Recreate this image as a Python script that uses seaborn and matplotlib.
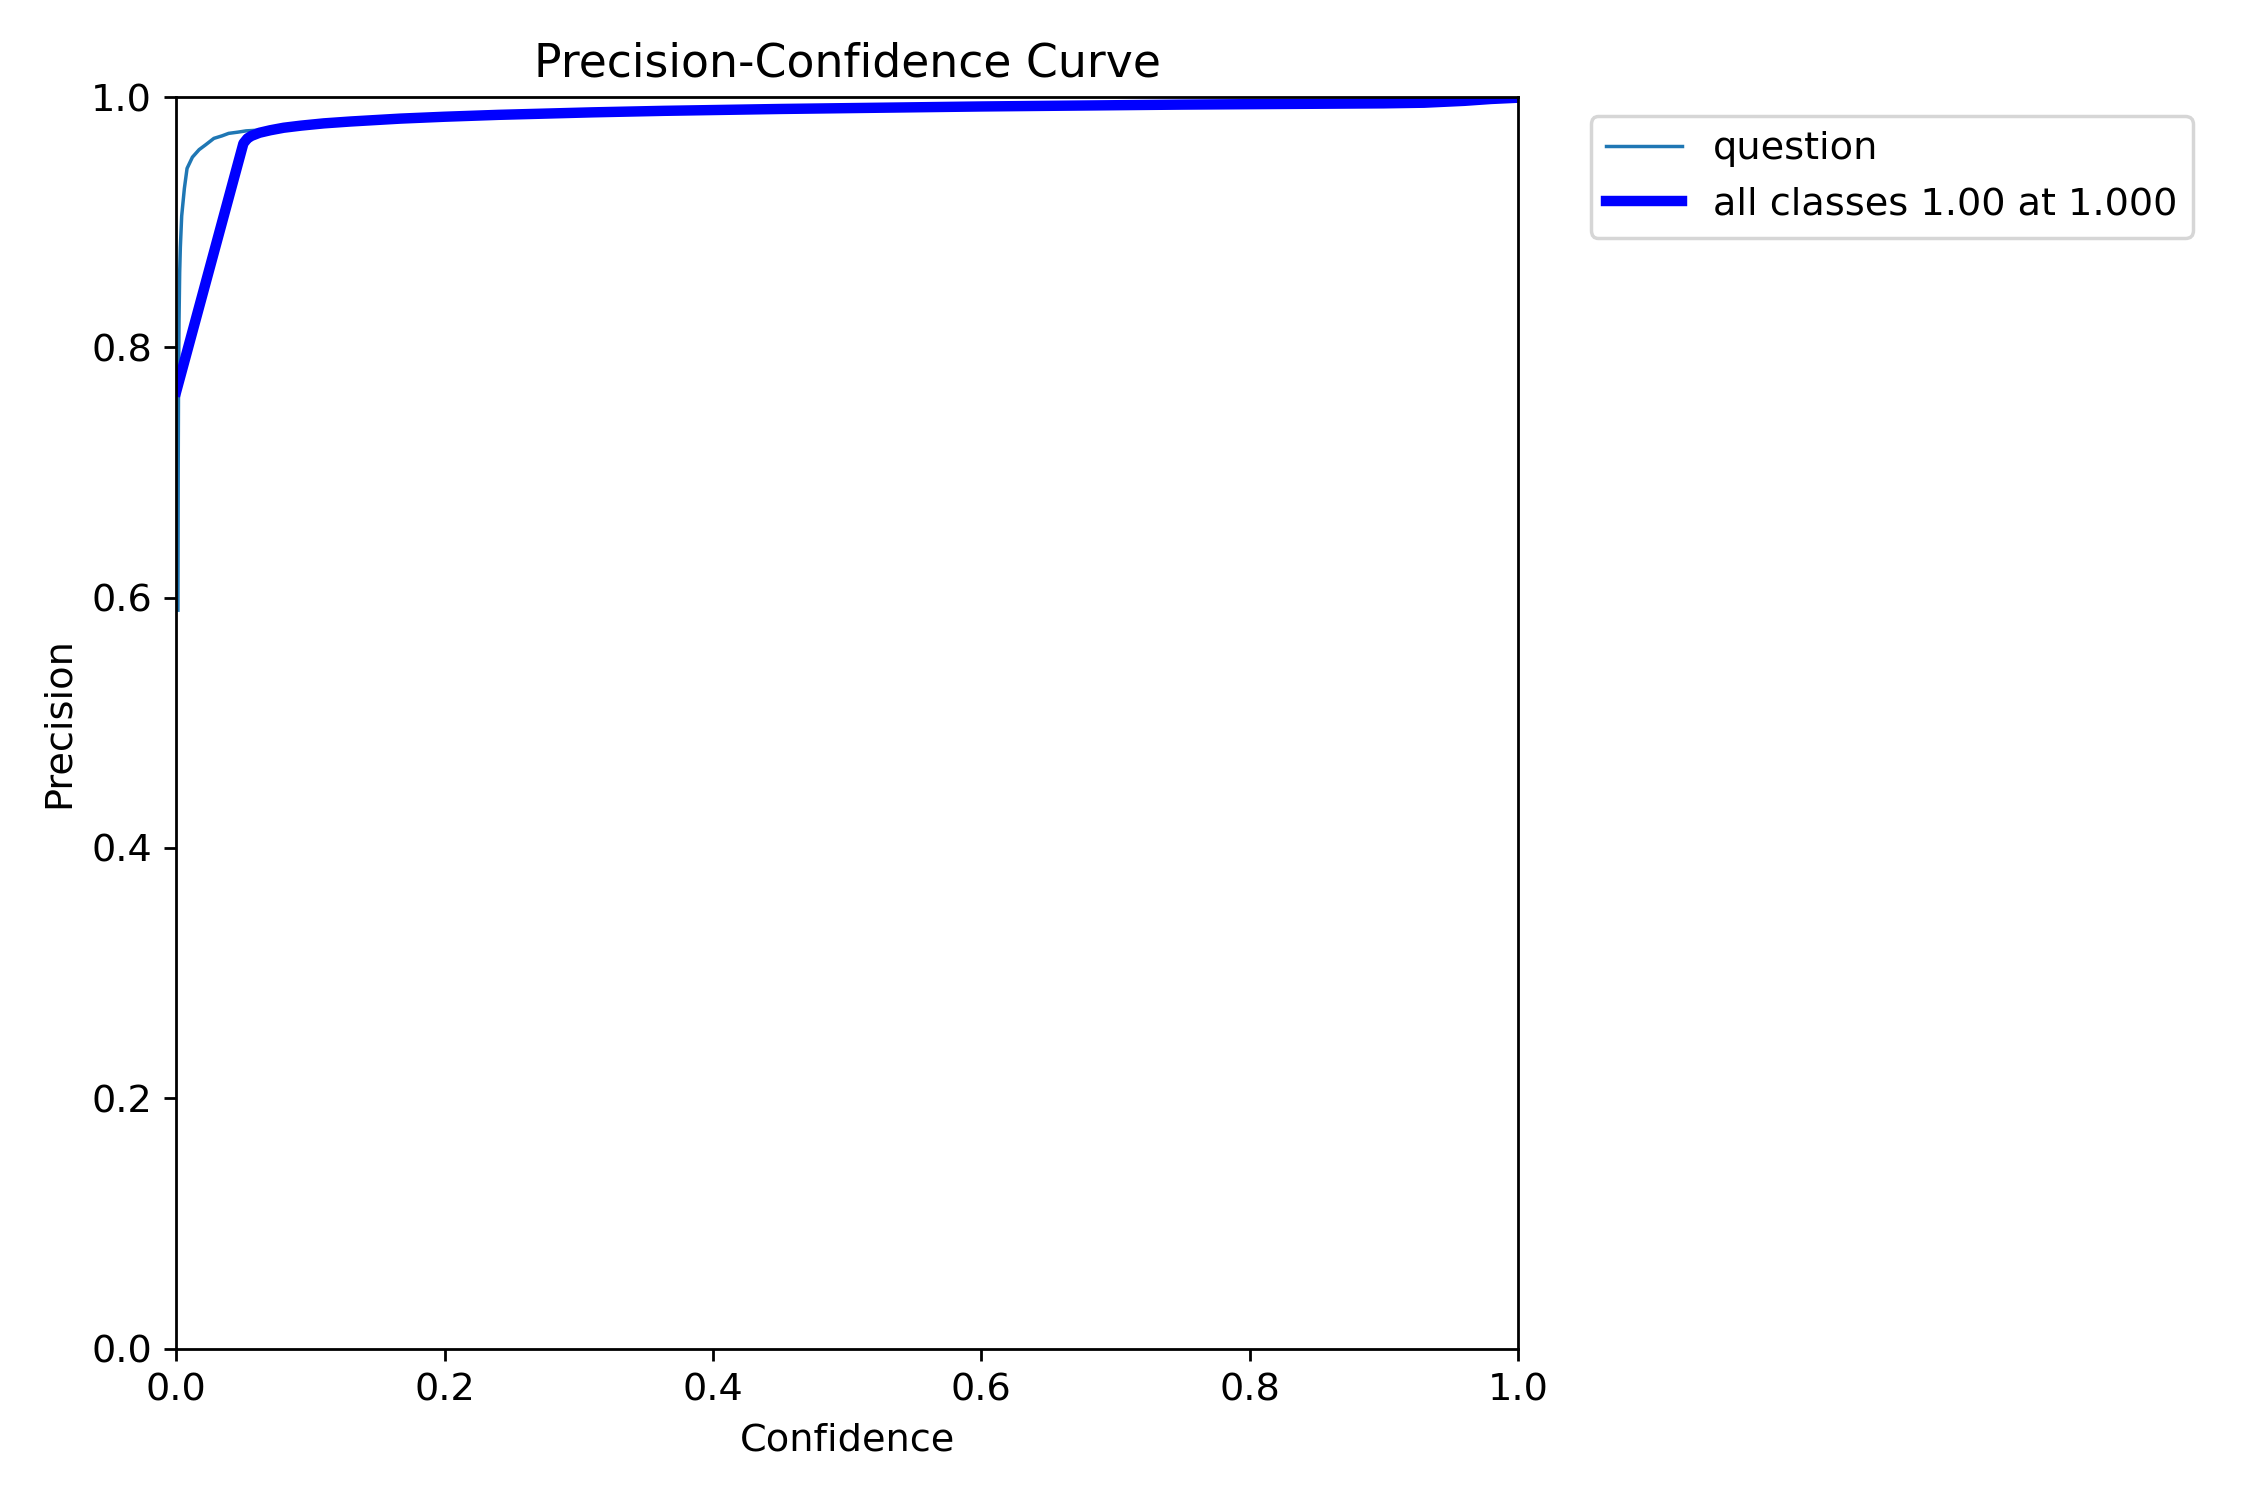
import matplotlib
matplotlib.use("Agg")
import matplotlib.pyplot as plt
import seaborn as sns

plt.rcParams["font.size"] = 11

# per-class curve (thin)
class_name = "question"
conf_q = [0.0012, 0.0014, 0.0016, 0.0018, 0.002, 0.0025, 0.003, 0.004, 0.006, 0.008, 0.012, 0.017,
          0.022, 0.028, 0.034, 0.039, 0.046, 0.052, 0.06, 0.08, 0.1, 0.13, 0.2, 0.3, 0.4, 0.5, 0.6,
          0.7, 0.8, 0.9, 0.94, 0.97, 1.0]
prec_q = [0.59, 0.70, 0.76, 0.79, 0.82, 0.86, 0.88, 0.905, 0.927, 0.943, 0.952, 0.958,
          0.962, 0.967, 0.969, 0.971, 0.972, 0.973, 0.9735, 0.9755, 0.978, 0.9805, 0.9843, 0.9875, 0.9898,
          0.9912, 0.9925, 0.9935, 0.9943, 0.995, 0.996, 0.998, 0.9995]

# all classes (smoothed, thick)
conf_all = [0.0, 0.050, 0.053, 0.056, 0.062, 0.07, 0.08, 0.093, 0.11, 0.13, 0.167, 0.2, 0.24, 0.31,
            0.363, 0.45, 0.6, 0.75, 0.9, 0.93, 0.96, 0.98, 1.0]
prec_all = [0.765, 0.963, 0.967, 0.969, 0.9715, 0.9735, 0.9755, 0.9772, 0.979, 0.9805, 0.9828, 0.9843,
            0.9858, 0.9878, 0.989, 0.9905, 0.9925, 0.994, 0.995, 0.9955, 0.997, 0.9985, 0.9995]

fig, ax = plt.subplots(1, 1, figsize=(9, 6), tight_layout=True)
sns.lineplot(x=conf_q, y=prec_q, ax=ax, linewidth=1, color="#1f77b4", label=class_name,
             sort=False, estimator=None)
sns.lineplot(x=conf_all, y=prec_all, ax=ax, linewidth=3, color="blue",
             label="all classes 1.00 at 1.000", sort=False, estimator=None)
ax.set_xlabel("Confidence")
ax.set_ylabel("Precision")
ax.set_xlim(0, 1)
ax.set_ylim(0, 1)
ax.legend(bbox_to_anchor=(1.04, 1), loc="upper left")
ax.set_title("Precision-Confidence Curve")
fig.savefig("out.png", dpi=250)
